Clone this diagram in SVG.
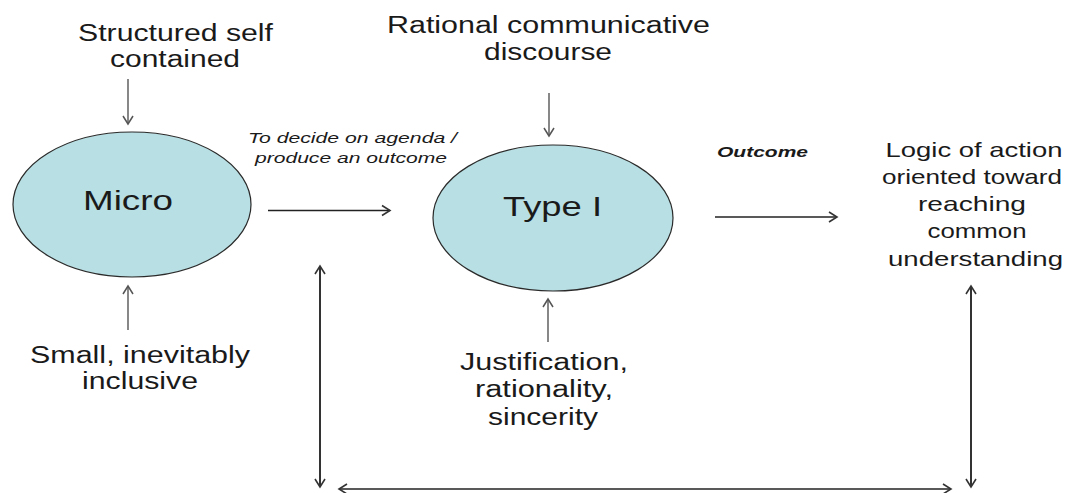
<svg xmlns="http://www.w3.org/2000/svg" width="1070" height="493" viewBox="0 0 1070 493">
<style>
  .t { font-family: "Liberation Sans", Arial, sans-serif; fill: #1a1a1a; text-anchor: middle; }
  .main { font-size: 23px; }
  .big { font-size: 28px; }
  .right { font-size: 21px; }
  .it { font-size: 15px; font-style: italic; text-anchor: start; }
  .bi { font-size: 15px; font-style: italic; font-weight: bold; text-anchor: start; }
  .node { fill: #b8dfe3; stroke: #2a2a2a; stroke-width: 1.2; }
  .lite { stroke: #555; stroke-width: 1.4; fill: none; }
  .dark { stroke: #222; stroke-width: 1.3; fill: none; }
  .thick { stroke: #333; stroke-width: 2; fill: none; }
</style>
<defs>
  <marker id="ah" markerUnits="userSpaceOnUse" markerWidth="14" markerHeight="14" refX="10" refY="6" orient="auto-start-reverse" viewBox="0 0 14 12">
    <path d="M2,1 L10,6 L2,11" fill="none" stroke="#333" stroke-width="1.6"/>
  </marker>
  <marker id="ahl" markerUnits="userSpaceOnUse" markerWidth="14" markerHeight="14" refX="10" refY="6" orient="auto-start-reverse" viewBox="0 0 14 12">
    <path d="M2,1 L10,6 L2,11" fill="none" stroke="#555" stroke-width="1.5"/>
  </marker>
</defs>

<g id="micro">
  <ellipse class="node" cx="132" cy="204.5" rx="119" ry="72.5"/>
  <text class="t big" x="128" y="210" textLength="90" lengthAdjust="spacingAndGlyphs">Micro</text>
</g>

<g id="type1">
  <ellipse class="node" cx="553" cy="218" rx="120" ry="73"/>
  <text class="t big" x="552.5" y="216" textLength="99" lengthAdjust="spacingAndGlyphs">Type I</text>
</g>

<g id="structured">
  <text class="t main" x="175.5" y="41" textLength="195" lengthAdjust="spacingAndGlyphs">Structured self</text>
  <text class="t main" x="175" y="67" textLength="130" lengthAdjust="spacingAndGlyphs">contained</text>
</g>

<g id="small">
  <text class="t main" x="140" y="363" textLength="220" lengthAdjust="spacingAndGlyphs">Small, inevitably</text>
  <text class="t main" x="140" y="389" textLength="116" lengthAdjust="spacingAndGlyphs">inclusive</text>
</g>

<g id="rational">
  <text class="t main" x="548.5" y="33" textLength="323" lengthAdjust="spacingAndGlyphs">Rational communicative</text>
  <text class="t main" x="548" y="60" textLength="128" lengthAdjust="spacingAndGlyphs">discourse</text>
</g>

<g id="justification">
  <text class="t main" x="544" y="370" textLength="168" lengthAdjust="spacingAndGlyphs">Justification,</text>
  <text class="t main" x="544" y="397" textLength="138" lengthAdjust="spacingAndGlyphs">rationality,</text>
  <text class="t main" x="543" y="425" textLength="110" lengthAdjust="spacingAndGlyphs">sincerity</text>
</g>

<g id="logic">
  <text class="t right" x="974" y="157" textLength="177" lengthAdjust="spacingAndGlyphs">Logic of action</text>
  <text class="t right" x="972" y="184" textLength="180" lengthAdjust="spacingAndGlyphs">oriented toward</text>
  <text class="t right" x="972" y="211" textLength="108" lengthAdjust="spacingAndGlyphs">reaching</text>
  <text class="t right" x="977" y="238" textLength="99" lengthAdjust="spacingAndGlyphs">common</text>
  <text class="t right" x="975.5" y="266" textLength="175" lengthAdjust="spacingAndGlyphs">understanding</text>
</g>

<g id="connectors">
  <line class="lite" x1="128" y1="79" x2="128" y2="124" marker-end="url(#ahl)"/>
  <line class="lite" x1="128" y1="330" x2="128" y2="286" marker-end="url(#ahl)"/>
  <line class="lite" x1="549" y1="93" x2="549" y2="136" marker-end="url(#ahl)"/>
  <line class="lite" x1="548" y1="342" x2="548" y2="299" marker-end="url(#ahl)"/>

  <line class="dark" x1="268" y1="210.5" x2="390" y2="210.5" marker-end="url(#ah)"/>
  <text class="t it" x="248" y="143" textLength="209" lengthAdjust="spacingAndGlyphs">To decide on agenda /</text>
  <text class="t it" x="255" y="163" textLength="192" lengthAdjust="spacingAndGlyphs">produce an outcome</text>

  <line class="dark" x1="715" y1="217" x2="837" y2="217" stroke-width="1.6" marker-end="url(#ah)"/>
  <text class="t bi" x="717" y="157" textLength="91" lengthAdjust="spacingAndGlyphs">Outcome</text>

  <line class="thick" x1="320" y1="266" x2="320" y2="487" marker-start="url(#ah)" marker-end="url(#ah)"/>
  <line class="dark" x1="339" y1="489" x2="951" y2="489" stroke-width="1.5" marker-start="url(#ah)" marker-end="url(#ah)"/>
  <line class="thick" x1="971" y1="286" x2="971" y2="487" stroke="#444" marker-start="url(#ah)" marker-end="url(#ah)"/>
</g>
</svg>
